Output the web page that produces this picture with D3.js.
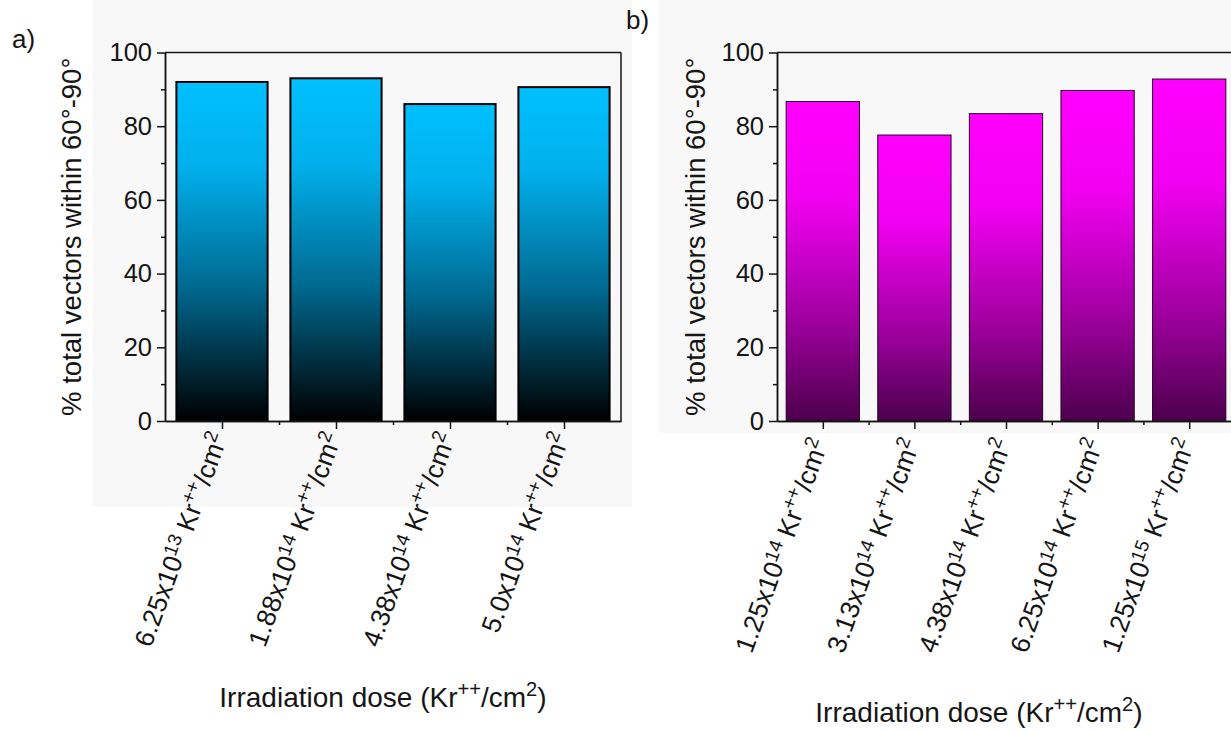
<!DOCTYPE html>
<html>
<head>
<meta charset="utf-8">
<script src="https://cdnjs.cloudflare.com/ajax/libs/d3/7.8.5/d3.min.js"></script>
<style>
	body { margin: 0; background: #fff; }
	text { font-family: "Liberation Sans", Arial, sans-serif; fill: #151515; }
	.axis path, .axis line { stroke: #151515; stroke-width: 1.5; }
</style>
</head>
<body>
<svg id="chart" width="1231" height="730"></svg>
<script>
// values
var dosesA = ["6.25x10^13", "1.88x10^14", "4.38x10^14", "5.0x10^14"];
var valuesA = [92.0, 93.0, 86.0, 90.6];
var dosesB = ["1.25x10^14", "3.13x10^14", "4.38x10^14", "6.25x10^14", "1.25x10^15"];
var valuesB = [86.7, 77.6, 83.4, 89.7, 92.8];
var yTicks = [0, 20, 40, 60, 80, 100];
var yMinorTicks = [10, 30, 50, 70, 90];
var yLabel = "% total vectors within 60\u00b0-90\u00b0";

var svg = d3.select("#chart");
var defs = svg.append("defs");

function gradient(id, stops) {
	var g = defs.append("linearGradient").attr("id", id)
		.attr("x1", 0).attr("y1", 0).attr("x2", 0).attr("y2", 1);
	stops.forEach(function(s) {
		g.append("stop").attr("offset", s[0]).attr("stop-color", s[1]);
	});
}
gradient("gradA", [[0, "#00c0ff"], [0.25, "#00b0ec"], [0.6, "#006a92"], [1, "#000000"]]);
gradient("gradB", [[0, "#ff00ff"], [0.3, "#f200f2"], [0.7, "#9c009c"], [1, "#4c004c"]]);

// writes text with raised parts, e.g. "6.25x10^13 Kr++/cm2"
function supText(sel, parts, size) {
	var shift = 0;
	parts.forEach(function(p) {
		var t = sel.append("tspan").text(p.t);
		if (p.sup) {
			var up = size * (p.up || 0.38);
			t.attr("font-size", size * 0.72).attr("dy", -up - shift);
			shift = -up;
		} else {
			t.attr("dy", -shift);
			shift = 0;
		}
	});
}
function doseParts(label) {
	var s = label.split("^");
	return [{t: s[0]}, {t: s[1], sup: true, up: 0.32}, {t: " Kr"}, {t: "++", sup: true}, {t: "/cm"}, {t: "2", sup: true}];
}

function drawPanel(o) {
	var n = o.doses.length;
	var x = d3.scaleLinear().domain([0.5, n + 0.5]).range([o.left, o.right]);
	var y = d3.scaleLinear().domain([0, 100]).range([421, 52.5]);
	var g = svg.append("g");

	g.append("rect").attr("x", o.bg[0]).attr("y", 0).attr("width", o.bg[1] - o.bg[0]).attr("height", o.bg[2])
		.attr("fill", "#f8f8f8");

	g.selectAll(".bar").data(o.values).enter().append("rect")
		.attr("class", "bar")
		.attr("x", function(d, i) { return x(i + 1 - 0.4); })
		.attr("width", x(1.4) - x(0.6))
		.attr("y", function(d) { return y(d); })
		.attr("height", function(d) { return y(0) - y(d); })
		.attr("fill", "url(#" + o.grad + ")")
		.attr("stroke", o.stroke).attr("stroke-width", o.strokeWidth);

	// frame
	g.append("line").attr("x1", o.left).attr("x2", o.right).attr("y1", y(100)).attr("y2", y(100))
		.attr("stroke", "#151515").attr("stroke-width", 1.5);
	g.append("line").attr("x1", o.right).attr("x2", o.right).attr("y1", y(100)).attr("y2", y(0))
		.attr("stroke", "#151515").attr("stroke-width", 1.5);

	g.append("g").attr("class", "axis").attr("transform", "translate(" + o.left + ",0)")
		.call(d3.axisLeft(y).tickValues(yMinorTicks).tickSize(4).tickFormat("").tickSizeOuter(0));
	var ya = g.append("g").attr("class", "axis").attr("transform", "translate(" + o.left + ",0)")
		.call(d3.axisLeft(y).tickValues(yTicks).tickSize(8).tickPadding(5).tickSizeOuter(0));
	ya.selectAll("text").attr("font-size", 25.5).attr("font-family", null).attr("fill", null);

	var minor = d3.range(1, n).map(function(i) { return i + 0.5; });
	g.append("g").attr("class", "axis").attr("transform", "translate(0," + y(0) + ")")
		.call(d3.axisBottom(x).tickValues(minor).tickSize(4).tickFormat("").tickSizeOuter(0));
	g.append("g").attr("class", "axis").attr("transform", "translate(0," + y(0) + ")")
		.call(d3.axisBottom(x).tickValues(d3.range(1, n + 1)).tickSize(8).tickFormat("").tickSizeOuter(0));

	g.selectAll(".dose").data(o.doses).enter().append("text")
		.attr("class", "dose")
		.attr("font-size", 26.5)
		.attr("text-anchor", "end")
		.attr("transform", function(d, i) {
			return "translate(" + (x(i + 1) + 6) + "," + (y(0) + o.labelDrop) + ") rotate(-70)";
		})
		.each(function(d) { supText(d3.select(this), doseParts(d), 26.5); });

	g.append("text").attr("font-size", 27.5).attr("text-anchor", "middle")
		.attr("transform", "translate(" + o.yLabelX + "," + (y(0) + y(100)) / 2 + ") rotate(-90)")
		.text(yLabel);

	var t = g.append("text").attr("font-size", 28).attr("text-anchor", "middle")
		.attr("x", o.titleX).attr("y", o.titleY);
	supText(t, [{t: "Irradiation dose (Kr"}, {t: "++", sup: true}, {t: "/cm"}, {t: "2", sup: true}, {t: ")"}], 28);

	svg.append("text").attr("x", o.tag[0]).attr("y", o.tag[1]).attr("font-size", 26).text(o.tagText);
}

drawPanel({
	doses: dosesA, values: valuesA, left: 165, right: 621, grad: "gradA",
	stroke: "#000", strokeWidth: 2, labelDrop: 16, yLabelX: 81,
	titleX: 383, titleY: 707, bg: [93, 632, 507], tag: [12, 48], tagText: "a)"
});
drawPanel({
	doses: dosesB, values: valuesB, left: 777, right: 1235, grad: "gradB",
	stroke: "#2a002a", strokeWidth: 1, labelDrop: 22, yLabelX: 705,
	titleX: 979, titleY: 722, bg: [658, 1231, 433], tag: [626, 29], tagText: "b)"
});
</script>
</body>
</html>
